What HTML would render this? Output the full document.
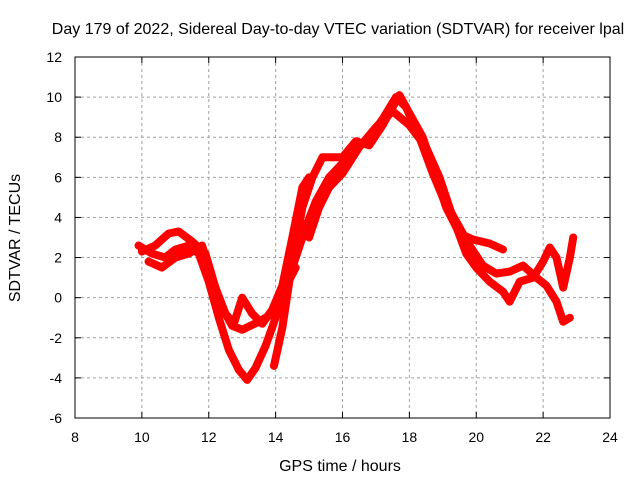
<!DOCTYPE html>
<html><head><meta charset="utf-8"><style>
body{margin:0;background:#fff}
svg{display:block;font-family:"Liberation Sans",sans-serif}
</style></head><body>
<svg id="chart" width="640" height="480">
<text x="338" y="34" text-anchor="middle" font-size="16">Day 179 of 2022, Sidereal Day-to-day VTEC variation (SDTVAR) for receiver lpal</text>
<text x="340" y="471" text-anchor="middle" font-size="16">GPS time / hours</text>
<text transform="translate(20,238) rotate(-90)" text-anchor="middle" font-size="16">SDTVAR / TECUs</text>
<g id="grid"></g><g id="ticks"></g><g id="series"></g>
<rect x="75" y="57" width="535" height="361" fill="none" stroke="#000"/>
</svg>
<script>
const xTicks=[8,10,12,14,16,18,20,22,24];
const yTicks=[-6,-4,-2,0,2,4,6,8,10,12];
const trackA_x=[9.9,10.3,10.7,11.0,11.4,11.7,12.0,12.3,12.6,12.9,13.15,13.4,13.7,14.0,14.3,14.6,14.9,15.2,15.6,16.0,16.4,16.8,17.2,17.6,17.9,18.3,18.7,19.0,19.4,19.8,20.2,20.6,21.0,21.4,21.8,22.1,22.4,22.6,22.8];
const trackA_y=[2.6,2.2,2.0,2.4,2.6,2.2,0.8,-1,-2.6,-3.6,-4.1,-3.5,-2.4,-1.0,0.5,2.0,3.5,4.8,6.0,6.7,7.4,8.0,8.9,10.0,9.5,8.0,6.2,5.0,3.8,2.6,1.6,1.2,1.3,1.6,1.0,0.6,-0.2,-1.2,-1.0];
const trackB_x=[10.0,10.4,10.8,11.1,11.5,11.9,12.2,12.5,12.75,13.0,13.3,13.6,13.9,14.2,14.5,14.8,15.0];
const trackB_y=[2.3,2.6,3.2,3.3,2.8,2.2,0.5,-0.8,-1.3,0,-0.8,-1.3,-0.6,0.6,3.0,5.5,6.0];
const trackC_x=[10.2,10.6,11.0,11.4,11.8,12.1,12.4,12.7,13.0,13.5,13.9,14.2,14.6];
const trackC_y=[1.8,1.5,2.0,2.2,2.6,1.0,-0.5,-1.4,-1.6,-1.2,-0.8,0.2,1.5];
const trackD_x=[13.95,14.2,14.5,14.8,15.1,15.4,16.0,16.4,16.8,17.2,17.7,18.0,18.4,18.7,19.1,19.5,19.9,20.4,20.8];
const trackD_y=[-3.4,-1.5,1.8,4.5,6.0,7.0,7.0,7.8,7.6,8.6,10.1,9.2,8.0,6.5,4.5,3.2,2.9,2.7,2.4];
const trackE_x=[15.0,15.3,15.6,16.0,16.5,17.0,17.5,18.0,18.5,18.9,19.3,19.7,20.0,20.4,20.8,21.0,21.3,21.7,22.0,22.2,22.4,22.6,22.8,22.9];
const trackE_y=[3.0,4.5,5.5,6.2,7.5,8.5,9.3,8.6,7.5,6.0,4.0,2.2,1.5,0.8,0.3,-0.2,0.8,1.0,1.8,2.5,2.0,0.5,2.0,3.0];
const tracks=[[trackA_x,trackA_y],[trackB_x,trackB_y],[trackC_x,trackC_y],[trackD_x,trackD_y],[trackE_x,trackE_y]];
const X=v=>75+(v-8)*535/16, Y=v=>418-(v+6)*361/18;
const NS="http://www.w3.org/2000/svg";
function mk(tag,attrs,parent,txt){const e=document.createElementNS(NS,tag);for(const k in attrs)e.setAttribute(k,attrs[k]);if(txt!==undefined)e.textContent=txt;parent.appendChild(e);return e;}
const grid=document.getElementById('grid'),ticks=document.getElementById('ticks'),ser=document.getElementById('series');
xTicks.forEach(t=>{
 if(t>8&&t<24){const g=mk('line',{x1:X(t),x2:X(t),y1:57,y2:418,stroke:'#a0a0a0','stroke-dasharray':'3,3'},grid);
 
 }
 mk('line',{x1:X(t),x2:X(t),y1:418,y2:412,stroke:'#000'},ticks);
 mk('line',{x1:X(t),x2:X(t),y1:57,y2:63,stroke:'#000'},ticks);
 const l=mk('text',{x:X(t),y:442,'text-anchor':'middle','font-size':14},ticks,t);
 
 
});
yTicks.forEach(t=>{
 if(t>-6&&t<12){const g=mk('line',{x1:75,x2:610,y1:Y(t),y2:Y(t),stroke:'#a0a0a0','stroke-dasharray':'3,3'},grid);
 
 }
 mk('line',{x1:75,x2:81,y1:Y(t),y2:Y(t),stroke:'#000'},ticks);
 mk('line',{x1:604,x2:610,y1:Y(t),y2:Y(t),stroke:'#000'},ticks);
 const l=mk('text',{x:62,y:Y(t)+5,'text-anchor':'end','font-size':14},ticks,t);
 
 
});
tracks.forEach((tr,i)=>{
 const pts=tr[0].map((x,j)=>X(x)+','+Y(tr[1][j])).join(' ');
 const p=mk('polyline',{points:pts,fill:'none',stroke:'#ff0000','stroke-width':8,'stroke-linejoin':'round','stroke-linecap':'round'},ser);
 
 
});
</script>
</body></html>
